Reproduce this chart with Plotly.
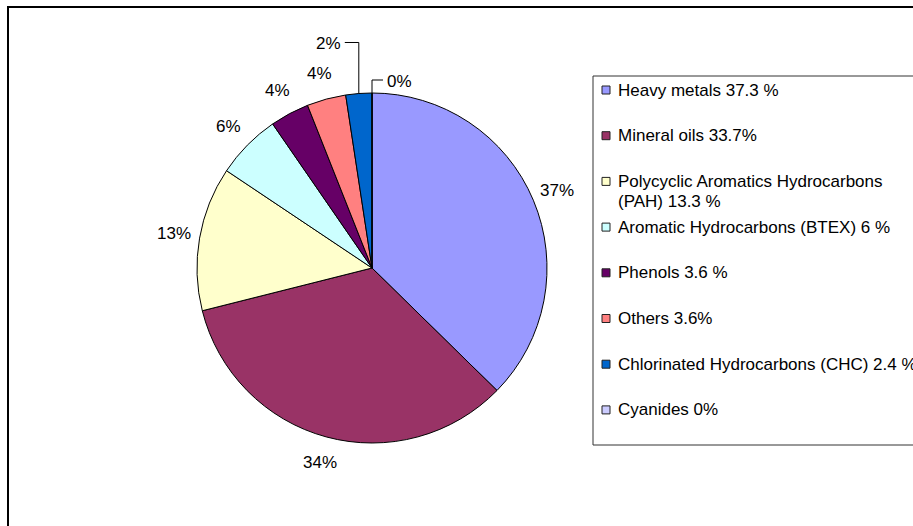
import math
import plotly.graph_objects as go

# ---- data ----
labels = [
    "Heavy metals 37.3 %",
    "Mineral oils 33.7%",
    "Polycyclic Aromatics Hydrocarbons<br>(PAH) 13.3 %",
    "Aromatic Hydrocarbons (BTEX) 6 %",
    "Phenols 3.6 %",
    "Others 3.6%",
    "Chlorinated Hydrocarbons (CHC) 2.4 %",
    "Cyanides 0%",
]
values = [37.3, 33.7, 13.3, 6.0, 3.6, 3.6, 2.4, 0.0]
colors = ["#9999FF", "#993366", "#FFFFCC", "#CCFFFF", "#660066", "#FF8080", "#0066CC", "#CCCCFF"]

# ---- layout constants (pixels) ----
W, H = 913, 526
CX, CY, R = 372, 268, 175
FONT = "Liberation Sans, Arial, sans-serif"
FS = 17


def px(x):
    return x / W


def py(y):
    return 1 - y / H


fig = go.Figure()
fig.add_trace(go.Pie(
    labels=[l.replace("<br>", " ") for l in labels],
    values=values,
    marker=dict(colors=colors, line=dict(color="black", width=1)),
    sort=False,
    direction="clockwise",
    rotation=0,
    textinfo="none",
    hoverinfo="label+percent",
    showlegend=False,
    domain=dict(x=[px(CX - R), px(CX + R)], y=[py(CY + R), py(CY - R)]),
))

shapes = []
annotations = []

# outer chart border
shapes.append(dict(type="rect", xref="paper", yref="paper",
                   x0=px(8), x1=px(W + 20), y0=py(7), y1=py(H + 20),
                   line=dict(color="black", width=2), fillcolor="rgba(0,0,0,0)"))

# percentage labels computed from values
total = sum(values)
cum = 0.0
leaders = {6: (51, -14), 7: (13, 11)}  # (vertical rise, horizontal run) for tiny slices
for i, v in enumerate(values):
    frac = v / total
    mid = (cum + frac / 2) * 2 * math.pi
    cum += frac
    txt = f"{round(frac * 100):.0f}%"
    ex = CX + R * math.sin(mid)
    ey = CY - R * math.cos(mid)
    if i in leaders:
        rise, run = leaders[i]
        ty = ey - rise
        tx = ex + run
        shapes.append(dict(type="path", xref="paper", yref="paper",
                           path=f"M {px(ex)},{py(ey)} L {px(ex)},{py(ty)} L {px(tx)},{py(ty)}",
                           line=dict(color="black", width=1)))
        annotations.append(dict(x=px(tx + (2 if run > 0 else -2)), y=py(ty + 1), xref="paper", yref="paper",
                                text=txt, showarrow=False,
                                xanchor="left" if run > 0 else "right", yanchor="middle",
                                font=dict(family=FONT, size=FS, color="black")))
    else:
        rl = R + 26
        lx = CX + rl * math.sin(mid)
        ly = CY - rl * math.cos(mid)
        annotations.append(dict(x=px(lx), y=py(ly), xref="paper", yref="paper",
                                text=txt, showarrow=False, xanchor="center", yanchor="middle",
                                font=dict(family=FONT, size=FS, color="black")))

# legend (box, swatches, texts)
LX0, LY0, LY1 = 593, 76, 445
shapes.append(dict(type="rect", xref="paper", yref="paper",
                   x0=px(LX0), x1=px(W + 30), y0=py(LY0), y1=py(LY1),
                   line=dict(color="#333333", width=1), fillcolor="white", layer="below"))
STEP = 45.7
for i, (lab, col) in enumerate(zip(labels, colors)):
    yc = 90 + i * STEP
    shapes.append(dict(type="rect", xref="paper", yref="paper",
                       x0=px(602), x1=px(610), y0=py(yc - 4), y1=py(yc + 4),
                       line=dict(color="#222222", width=1), fillcolor=col))
    for j, line in enumerate(lab.split("<br>")):
        annotations.append(dict(x=px(616), y=py(yc + j * 20), xref="paper", yref="paper",
                                text=line, showarrow=False, xanchor="left", yanchor="middle",
                                font=dict(family=FONT, size=FS, color="black")))

fig.update_layout(
    width=W, height=H,
    margin=dict(l=0, r=0, t=0, b=0, autoexpand=False),
    paper_bgcolor="white",
    plot_bgcolor="white",
    showlegend=False,
    shapes=shapes,
    annotations=annotations,
)

fig.write_html("out.html")
